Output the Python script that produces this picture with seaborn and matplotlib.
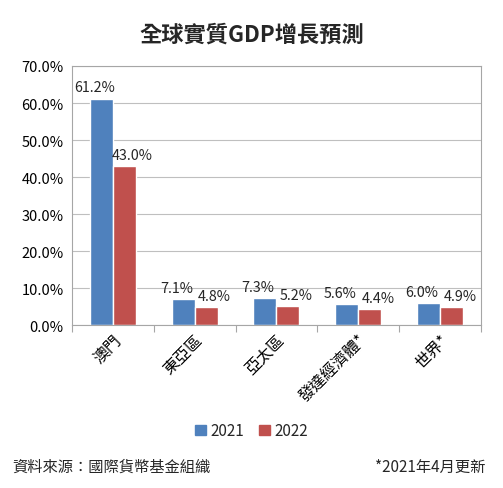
import matplotlib
matplotlib.use("Agg")
import matplotlib.pyplot as plt
import seaborn as sns
import pandas as pd
import numpy as np
from matplotlib.ticker import FuncFormatter, FixedLocator
from matplotlib.patches import Patch

categories = ["澳門", "東亞區", "亞太區", "發達經濟體*", "世界*"]
series_names = ["2021", "2022"]
values_2021 = [61.2, 7.1, 7.3, 5.6, 6.0]
values_2022 = [43.0, 4.8, 5.2, 4.4, 4.9]
colors = ["#4F81BD", "#C0504D"]

sns.set_theme(style="white")
plt.rcParams['font.family'] = ['Noto Sans CJK TC', 'DejaVu Sans']

df = pd.DataFrame({
    "cat": categories * 2,
    "year": [series_names[0]] * 5 + [series_names[1]] * 5,
    "val": values_2021 + values_2022,
})

fig = plt.figure(figsize=(5.03, 4.89), dpi=100)
ax = fig.add_axes([0.143, 0.333, 0.813, 0.53])
sns.barplot(data=df, x="cat", y="val", hue="year", palette=colors, width=0.56,
            ax=ax, legend=False, saturation=1)

ax.set_ylim(0, 70)
ax.set_yticks(np.arange(0, 71, 10))
ax.yaxis.set_major_formatter(FuncFormatter(lambda v, p: f"{v:.1f}%"))
ax.grid(axis="y", color="#BFBFBF", linewidth=0.8)
ax.set_axisbelow(True)
for s in ax.spines.values():
    s.set_color("#A6A6A6")
    s.set_linewidth(0.8)
ax.set_xlabel("")
ax.set_ylabel("")
ax.set_xlim(-0.5, 4.5)
ax.tick_params(axis="y", labelsize=10.5, length=0, pad=6, colors="black")
ax.tick_params(axis="x", which="major", length=0, labelsize=11.5, pad=4)
ax.xaxis.set_minor_locator(FixedLocator(np.arange(-0.5, 4.6, 1)))
ax.tick_params(axis="x", which="minor", length=5, color="#A6A6A6", width=0.8, bottom=True)
for lab in ax.get_xticklabels():
    lab.set_rotation(45)
    lab.set_ha("right")
    lab.set_rotation_mode("anchor")
    lab.set_color("black")

offsets = [-5, 6]
for cont, dx in zip(ax.containers, offsets):
    for patch, v in zip(cont.patches, cont.datavalues):
        ax.annotate(f"{v:.1f}%", (patch.get_x() + patch.get_width() / 2, patch.get_height()),
                    xytext=(dx, 3), textcoords="offset points", ha="center", va="bottom",
                    fontsize=10.3)

fig.text(0.5, 0.928, "全球實質GDP增長預測", ha="center", va="center", fontsize=16, fontweight="bold")

handles = [Patch(color=c, label=n) for c, n in zip(colors, series_names)]
fig.legend(handles=handles, loc="center", bbox_to_anchor=(0.5, 0.117), ncol=2, frameon=False,
           fontsize=11, handlelength=0.7, handleheight=0.7, handletextpad=0.3, columnspacing=1.0)

fig.text(0.025, 0.045, "資料來源：國際貨幣基金組織", ha="left", va="center", fontsize=11)
fig.text(0.965, 0.045, "*2021年4月更新", ha="right", va="center", fontsize=11)

fig.savefig("out.png", dpi=100)
